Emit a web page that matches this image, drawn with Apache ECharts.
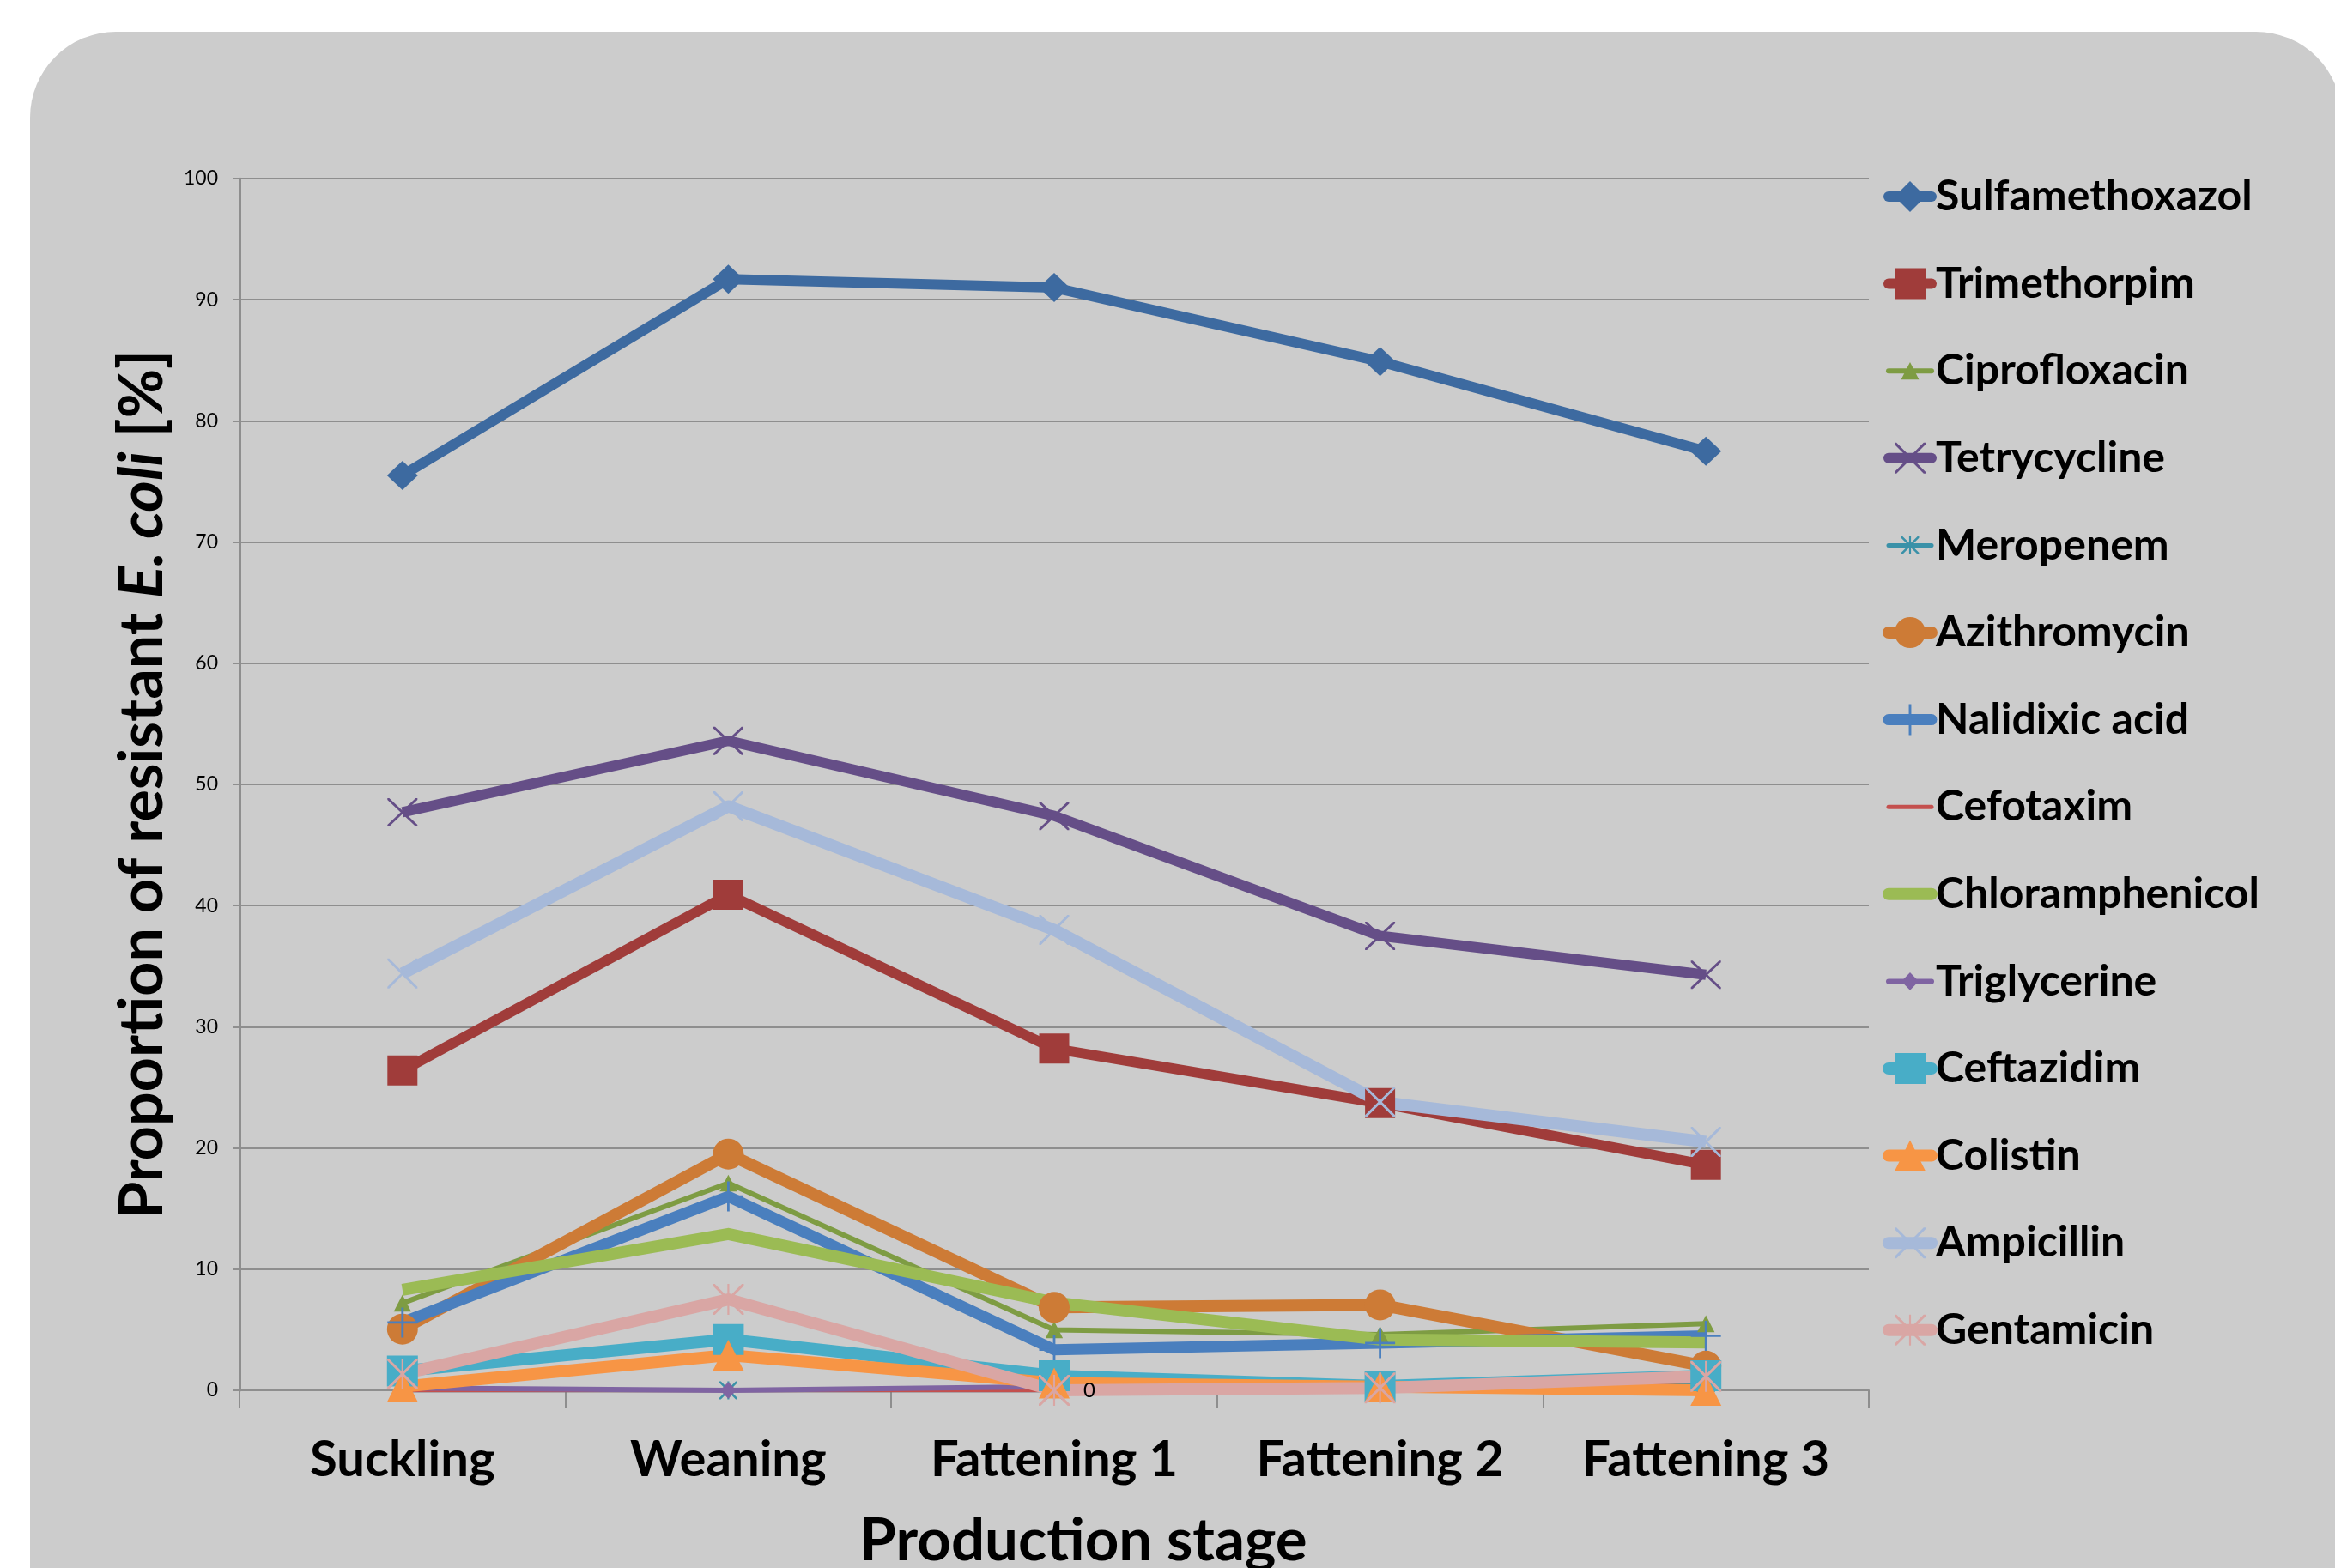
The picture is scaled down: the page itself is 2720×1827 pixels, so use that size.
<!DOCTYPE html>
<html>
<head>
<meta charset="utf-8">
<title>Proportion of resistant E. coli by production stage</title>
<script src="https://cdn.jsdelivr.net/npm/echarts@6/dist/echarts.min.js"></script>
<style>
  html, body { margin: 0; padding: 0; background: #ffffff; }
  #chart { width: 2720px; height: 1827px; }
</style>
</head>
<body>
<div id="chart"></div>
<script>
// Production stages on the x axis
const stages = ['Suckling', 'Weaning', 'Fattening 1', 'Fattening 2', 'Fattening 3'];

// Proportion of resistant E. coli [%] per antimicrobial and stage
const sulfamethoxazol = [75.5, 91.7, 91.0, 84.9, 77.5];
const trimethorpim    = [26.4, 40.9, 28.2, 23.7, 18.6];
const ciprofloxacin   = [7.2, 17.1, 5.0, 4.6, 5.5];
const tetrycycline    = [47.7, 53.6, 47.4, 37.5, 34.3];
const meropenem       = [0, 0, 0, 0, 0.6];
const azithromycin    = [5.05, 19.5, 6.85, 7.05, 2.0];
const nalidixicAcid   = [5.6, 16.0, 3.35, 3.9, 4.5];
const cefotaxim       = [0, 0, 0, 0, 0.8];
const chloramphenicol = [8.3, 12.9, 7.25, 4.2, 3.95];
const triglycerine    = [0.2, 0, 0.3, 0, 0];
const ceftazidim      = [1.6, 4.2, 1.2, 0.35, 1.2];
const colistin        = [0.3, 2.9, 0.6, 0.3, 0];
const ampicillin      = [34.4, 48.2, 38.0, 23.8, 20.5];
const gentamicin      = [1.35, 7.5, 0, 0.2, 1.15];

// value axis range and step
const yMin = 0, yMax = 100, yStep = 10;
// the one point whose value is printed next to it (Gentamicin, Fattening 1)
const labelledGentamicinIndex = 2;

// marker outlines
const PAD = 'M0,0L0,0Z M100,100L100,100Z ';
const SYM_X = 'path://M0,0L6,0L100,94L100,100L94,100L0,6Z M94,0L100,0L100,6L6,100L0,100L0,94Z';
const SYM_STAR = SYM_X + ' M47,0L53,0L53,100L47,100Z';
const SYM_PLUS = 'path://M46,0L54,0L54,46L100,46L100,54L54,54L54,100L46,100L46,54L0,54L0,46L46,46Z';
const SYM_SMALL_TRI = 'path://' + PAD + 'M50,22L79,78L21,78Z';
const SYM_SMALL_DIAMOND = 'path://' + PAD + 'M50,21L78,50L50,79L22,50Z';
const SYM_SMALL_STAR = 'path://' + PAD +
  'M21,21L26,21L79,74L79,79L74,79L21,26Z M74,21L79,21L79,26L26,79L21,79L21,74Z M47,21L53,21L53,79L47,79Z';

const FONT = 'Lato';

function lineSeries(name, data, color, width, symbol, size) {
  return {
    name: name,
    type: 'line',
    data: data,
    symbol: symbol,
    symbolSize: size,
    showSymbol: symbol !== 'none',
    lineStyle: { color: color, width: width, cap: 'butt', join: 'round' },
    itemStyle: { color: color, borderWidth: 0 },
    emphasis: { disabled: true },
    animation: false
  };
}

const gentamicinData = gentamicin.map(function (v, i) {
  if (i !== labelledGentamicinIndex) return v;
  return {
    value: v,
    label: {
      show: true, position: 'right', distance: 16, formatter: '{c}',
      fontFamily: FONT, fontSize: 24, color: '#000000'
    }
  };
});

const series = [
  lineSeries('Sulfamethoxazol', sulfamethoxazol, '#3D6AA0', 12, 'diamond', [36, 34]),
  lineSeries('Trimethorpim', trimethorpim, '#A03C3A', 12, 'rect', 35),
  lineSeries('Ciprofloxacin', ciprofloxacin, '#7E9C43', 6, SYM_SMALL_TRI, 35),
  lineSeries('Tetrycycline', tetrycycline, '#654E87', 12, SYM_X, [35, 33]),
  lineSeries('Meropenem', meropenem, '#3A91A8', 5, SYM_SMALL_STAR, 36),
  lineSeries('Azithromycin', azithromycin, '#CD7B36', 14, 'circle', 36),
  lineSeries('Nalidixic acid', nalidixicAcid, '#4A7FBE', 13, SYM_PLUS, 35),
  lineSeries('Cefotaxim', cefotaxim, '#C4504E', 5, 'none', 0),
  lineSeries('Chloramphenicol', chloramphenicol, '#9BBB54', 14, 'none', 0),
  lineSeries('Triglycerine', triglycerine, '#7F64A2', 6, SYM_SMALL_DIAMOND, 34),
  lineSeries('Ceftazidim', ceftazidim, '#48ADC7', 14, 'rect', 36),
  lineSeries('Colistin', colistin, '#F79545', 14, 'triangle', 36),
  lineSeries('Ampicillin', ampicillin, '#A6B9D9', 14, SYM_X, 35),
  lineSeries('Gentamicin', gentamicinData, '#D9A6A4', 14, SYM_STAR, 36)
];

// legend entries carry the series' line width; marker-less series show the line only
const legendData = series.map(function (s) {
  const item = {
    name: s.name,
    lineStyle: { width: s.lineStyle.width, color: s.lineStyle.color, cap: 'round' }
  };
  if (s.symbol === 'none') item.itemStyle = { opacity: 0 };
  return item;
});

const chart = echarts.init(document.getElementById('chart'), null, { renderer: 'canvas' });

chart.setOption({
  backgroundColor: '#ffffff',
  animation: false,
  graphic: [{
    type: 'rect',
    z: -100,
    silent: true,
    shape: { x: 35, y: 37, width: 2693, height: 1900, r: [100, 100, 0, 0] },
    style: { fill: '#cccccc' }
  }],
  grid: { left: 279, right: 543, top: 208, bottom: 207, containLabel: false, outerBoundsMode: 'none' },
  legend: {
    orient: 'vertical',
    left: 2188,
    top: 199,
    itemWidth: 50,
    itemHeight: 45,
    itemGap: 51.6,
    selectedMode: false,
    textStyle: { fontFamily: FONT, fontWeight: 'bold', fontSize: 50, color: '#000000', lineHeight: 50 },
    data: legendData
  },
  xAxis: {
    type: 'category',
    data: stages,
    boundaryGap: true,
    axisLine: { show: true, lineStyle: { color: '#8e8e8e', width: 2 } },
    axisTick: { show: true, interval: 0, alignWithLabel: false, length: 20, lineStyle: { color: '#8e8e8e', width: 2 } },
    axisLabel: { interval: 0, margin: 52, fontFamily: FONT, fontWeight: 'bold', fontSize: 58, color: '#000000' },
    splitLine: { show: false },
    name: 'Production stage',
    nameLocation: 'middle',
    nameGap: 141,
    nameTextStyle: { fontFamily: FONT, fontWeight: 'bold', fontSize: 69, color: '#000000', padding: [0, 0, 0, 68] }
  },
  yAxis: {
    type: 'value',
    min: yMin,
    max: yMax,
    interval: yStep,
    axisLine: { show: true, lineStyle: { color: '#8e8e8e', width: 3 } },
    axisTick: { show: true, length: 8, lineStyle: { color: '#8e8e8e', width: 2 } },
    splitLine: { show: true, lineStyle: { color: '#8e8e8e', width: 2 } },
    axisLabel: { margin: 25, fontFamily: FONT, fontSize: 23, color: '#000000' },
    name: 'Proportion of resistant {i|E. coli} [%]',
    nameLocation: 'middle',
    nameRotate: 90,
    nameGap: 78,
    nameTextStyle: {
      fontFamily: FONT, fontWeight: 'bold', fontSize: 70, color: '#000000',
      rich: { i: { fontFamily: FONT, fontWeight: 'bold', fontStyle: 'italic', fontSize: 70, color: '#000000' } }
    }
  },
  series: series
});
</script>
</body>
</html>
